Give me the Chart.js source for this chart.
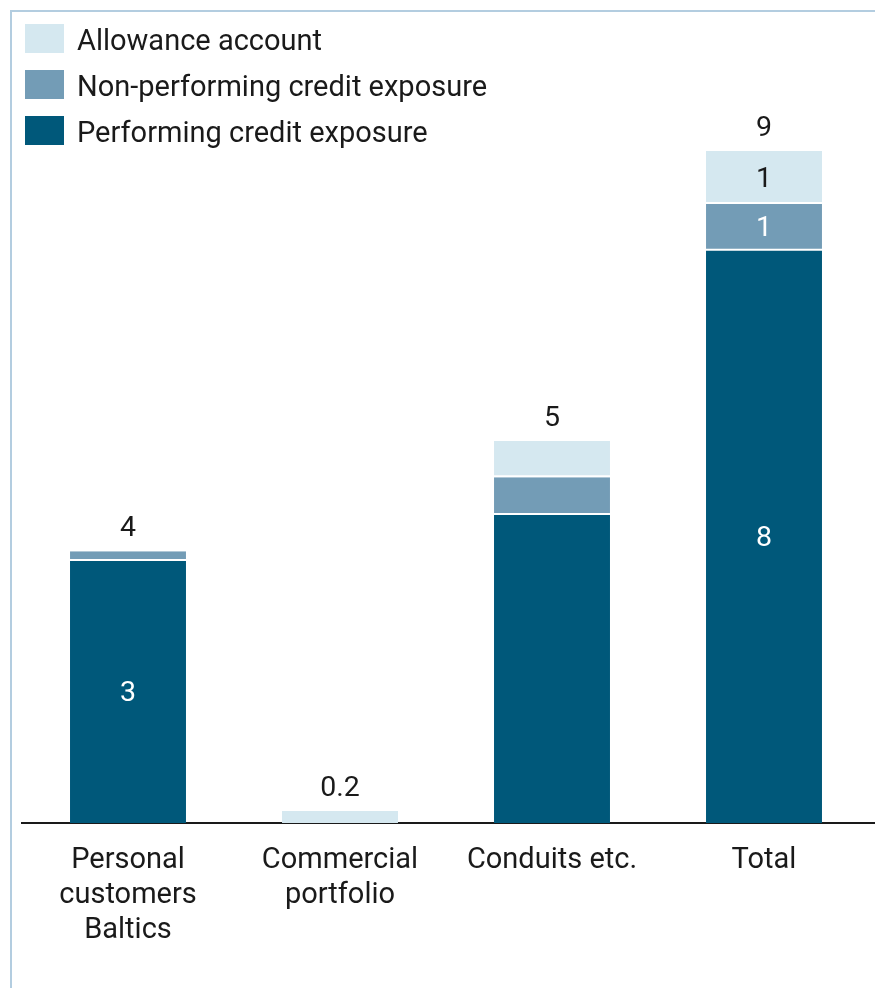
<!DOCTYPE html>
<html>
<head>
<meta charset="utf-8">
<script src="https://cdn.jsdelivr.net/npm/chart.js@4.4.1/dist/chart.umd.min.js"></script>
<style>
  html, body { margin: 0; padding: 0; background: #fff; }
  #wrap { position: relative; width: 875px; height: 988px; }
  #frame {
    position: absolute; left: 10px; top: 10px; right: 0; bottom: 0;
    border-top: 2px solid #b3cde0; border-left: 2px solid #b3cde0;
  }
  #chart { position: absolute; left: 0; top: 0; }
</style>
</head>
<body>
<div id="wrap">
  <div id="frame"></div>
  <canvas id="chart" width="875" height="988"></canvas>
</div>
<script>
// categories along the x axis (arrays give multi-line labels)
var categories = [["Personal", "customers", "Baltics"], ["Commercial", "portfolio"], "Conduits etc.", "Total"];

// stacked series, bottom to top
var performing = [3.47, 0, 4.08, 7.58];
var nonPerforming = [0.13, 0, 0.50, 0.62];
var allowance = [0, 0.16, 0.48, 0.70];

// which segments carry a value label inside the bar
var showPerforming = [true, false, false, true];
var showNonPerforming = [false, false, false, true];
var showAllowance = [false, false, false, true];

var FONT = "Roboto, 'Open Sans', sans-serif";
var TEXT = "#1a1a1a";

// white gap under a segment when there is something stacked below it
function gapBelow(ctx) {
    var below = 0;
    for (var i = 0; i < ctx.datasetIndex; i++) {
        below += ctx.chart.data.datasets[i].data[ctx.dataIndex];
    }
    return { top: 0, left: 0, right: 0, bottom: below > 0 ? 2 : 0 };
}

// totals: whole numbers, one decimal below 1
function fmtTotal(v) {
    return v >= 1 ? String(Math.round(v)) : v.toFixed(1);
}

// legend: square swatch + label, top item is the top of the stack
var legendBoxes = {
    id: "legendBoxes",
    afterDraw: function(chart) {
        var c = chart.ctx;
        var sets = chart.data.datasets.slice().reverse();
        c.save();
        c.font = "29px " + FONT;
        c.textBaseline = "middle";
        c.textAlign = "left";
        sets.forEach(function(ds, i) {
            var y = 24 + i * 46;
            c.fillStyle = ds.backgroundColor;
            c.fillRect(25, y, 39, 29);
            c.fillStyle = TEXT;
            c.fillText(ds.label, 77, y + 19);
        });
        c.restore();
    }
};

// value labels: inside chosen segments and the stack total above each bar
var valueLabels = {
    id: "valueLabels",
    afterDatasetsDraw: function(chart) {
        var c = chart.ctx;
        var sets = chart.data.datasets;
        c.save();
        c.font = "28.5px " + FONT;
        c.textAlign = "center";
        c.textBaseline = "middle";
        sets.forEach(function(ds, di) {
            var meta = chart.getDatasetMeta(di);
            meta.data.forEach(function(bar, j) {
                if (!ds.showLabel[j]) return;
                var p = bar.getProps(["x", "y", "base"], true);
                c.fillStyle = ds.labelColor;
                c.fillText(String(Math.round(ds.data[j])), p.x, (p.y + p.base) / 2 + 2);
            });
        });
        var topMeta = chart.getDatasetMeta(sets.length - 1);
        categories.forEach(function(cat, j) {
            var total = 0;
            sets.forEach(function(ds) { total += ds.data[j]; });
            var x = topMeta.data[j].x;
            var y = chart.scales.y.getPixelForValue(total);
            c.fillStyle = TEXT;
            c.fillText(fmtTotal(total), x, y - 22);
        });
        c.restore();
    }
};

// extend the baseline to the right edge
var baseline = {
    id: "baseline",
    afterDatasetsDraw: function(chart) {
        var c = chart.ctx;
        var a = chart.chartArea;
        c.save();
        c.fillStyle = "#1a1a1a";
        c.fillRect(a.right, a.bottom - 1, chart.width - a.right, 2);
        c.restore();
    }
};

var data = {
    labels: categories,
    datasets: [
        {
            label: "Performing credit exposure",
            data: performing,
            backgroundColor: "#00587a",
            showLabel: showPerforming,
            labelColor: "#ffffff"
        },
        {
            label: "Non-performing credit exposure",
            data: nonPerforming,
            backgroundColor: "#739cb6",
            showLabel: showNonPerforming,
            labelColor: "#ffffff"
        },
        {
            label: "Allowance account",
            data: allowance,
            backgroundColor: "#d5e8f0",
            showLabel: showAllowance,
            labelColor: TEXT
        }
    ]
};

var options = {
    responsive: false,
    animation: false,
    devicePixelRatio: 1,
    layout: { padding: { top: 68, left: 22, right: 5, bottom: 0 } },
    datasets: {
        bar: {
            barPercentage: 0.547,
            categoryPercentage: 1,
            borderColor: "#ffffff",
            borderSkipped: false,
            borderWidth: gapBelow
        }
    },
    plugins: {
        legend: { display: false },
        tooltip: { enabled: false }
    },
    scales: {
        x: {
            stacked: true,
            grid: { display: false, drawTicks: false },
            border: { display: true, color: "#1a1a1a", width: 2 },
            ticks: {
                color: TEXT,
                padding: 20,
                maxRotation: 0,
                autoSkip: false,
                font: { family: FONT, size: 29, lineHeight: 1.21 }
            },
            afterFit: function(scale) { scale.height = 165; }
        },
        y: {
            stacked: true,
            display: false,
            min: 0,
            max: 10
        }
    }
};

new Chart(document.getElementById("chart"), {
    type: "bar",
    data: data,
    options: options,
    plugins: [valueLabels, baseline, legendBoxes]
});
</script>
</body>
</html>
